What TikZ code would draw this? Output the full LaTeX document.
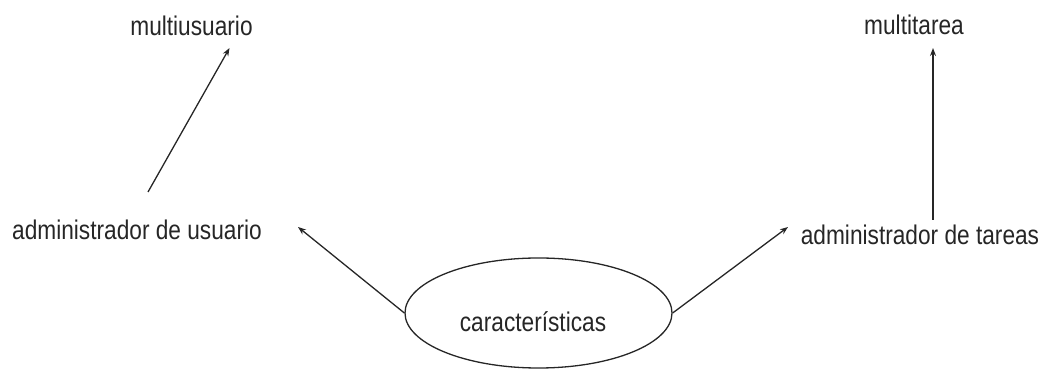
\documentclass[tikz,border=0pt]{standalone}
\usepackage{fontspec}
\setmainfont[FakeStretch=0.84]{Liberation Sans}
\usetikzlibrary{arrows.meta,calc,shapes.geometric}
\begin{document}
\begin{tikzpicture}[x=1pt,y=1pt,
  lbl/.style={inner sep=0pt,anchor=base,font=\fontsize{27}{30}\selectfont,text=black!85},
  arr/.style={draw=black!85,line width=1.3pt,-{Stealth[length=8pt,width=6pt]}}]
\useasboundingbox (0,0) rectangle (1047,369);
\node[lbl] (multiU) at (191.5,333) {multiusuario};
\node[lbl] (multiT) at (914,334) {multitarea};
\node[lbl] (adminU) at (137,129) {administrador de usuario};
\node[lbl] (adminT) at (920,124) {administrador de tareas};
\node[draw=black!85,line width=1.3pt,ellipse,minimum width=267pt,minimum height=110pt,inner sep=0pt] (car) at (538.5,56) {};
\node[lbl] (cartxt) at (533,37) {características};
\draw[arr] ($(adminU.base)+(11,48)$) -- ($(multiU.base)+(38,-12)$);
\draw[arr] (car.west) -- ($(adminU.base)+(161,13)$);
\draw[arr] (car.east) -- ($(adminT.base)+(-132,18)$);
\draw[arr] ($(adminT.base)+(13,25)$) -- ($(multiT.base)+(19,-13)$);
\end{tikzpicture}
\end{document}
